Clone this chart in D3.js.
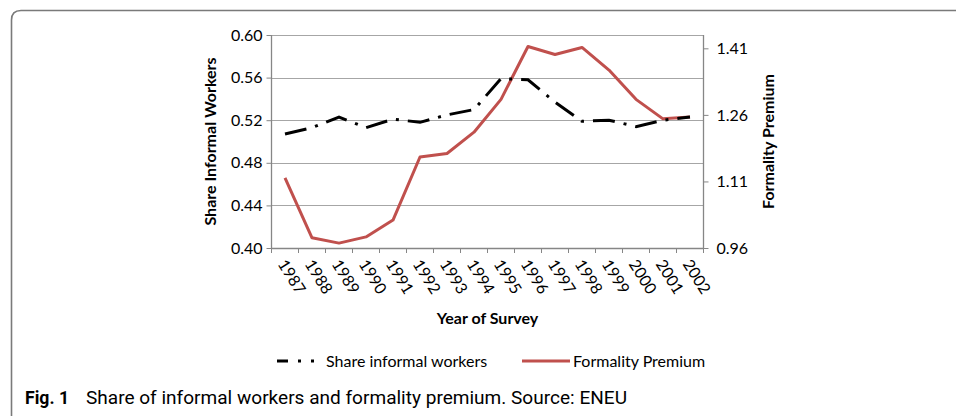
<!DOCTYPE html>
<html>
<head>
<meta charset="utf-8">
<script src="https://cdnjs.cloudflare.com/ajax/libs/d3/7.8.5/d3.min.js"></script>
<style>
  html, body { margin: 0; padding: 0; background: #fff; }
  svg { display: block; }
  text { font-family: Lato, "Open Sans", sans-serif; fill: #000; }
</style>
</head>
<body>
<svg id="chart" width="956" height="416"></svg>
<script>
const years = ["1987","1988","1989","1990","1991","1992","1993","1994","1995","1996","1997","1998","1999","2000","2001","2002"];
const shareInformal = [0.507,0.513,0.523,0.513,0.521,0.518,0.525,0.530,0.559,0.558,0.537,0.519,0.520,0.514,0.520,0.523];
const formalityPremium = [1.118,0.983,0.971,0.985,1.023,1.165,1.173,1.221,1.295,1.414,1.396,1.412,1.361,1.295,1.251,1.255];
const leftTicks = [0.40,0.44,0.48,0.52,0.56,0.60];
const rightTicks = [0.96,1.11,1.26,1.41];
const seriesNames = ["Share informal workers","Formality Premium"];

const FS = "16px";
const svg = d3.select("#chart");
const L = 271.5, R = 703.5, T = 35, B = 248;

// figure frame
svg.append("path")
  .attr("d", `M 960 10.5 L 21 10.5 Q 11.5 10.5 11.5 20 L 11.5 420`)
  .attr("fill", "none").attr("stroke", "#7a7a7a").attr("stroke-width", 1.6);

const x = d3.scaleBand().domain(years).range([L, R]);
const yL = d3.scaleLinear().domain([0.40, 0.60]).range([B, T]);
const yR = d3.scaleLinear().domain([0.96, 1.44]).range([B, T]);
const cx = d => x(d) + x.bandwidth() / 2;

// gridlines
svg.append("g").selectAll("line").data(leftTicks.slice(1)).join("line")
  .attr("x1", L).attr("x2", R)
  .attr("y1", d => Math.round(yL(d)) + 0.5).attr("y2", d => Math.round(yL(d)) + 0.5)
  .attr("stroke", "#a6a6a6").attr("stroke-width", 1);

// left axis
const gL = svg.append("g").attr("transform", `translate(${L},0)`)
  .call(d3.axisLeft(yL).tickValues(leftTicks).tickFormat(d3.format(".2f")).tickSize(5).tickPadding(4));
gL.select(".domain").attr("stroke", "#868686").attr("stroke-width", 1.3).attr("d", `M0,${T}V${B}`);
gL.selectAll(".tick line").attr("stroke", "#868686");
gL.selectAll("text").style("font-size", FS).style("font-family", "Lato, 'Open Sans', sans-serif").attr("fill", "#000");

// right axis
const gR = svg.append("g").attr("transform", `translate(${R},0)`)
  .call(d3.axisRight(yR).tickValues(rightTicks).tickFormat(d3.format(".2f")).tickSize(5).tickPadding(8));
gR.select(".domain").attr("stroke", "#868686").attr("stroke-width", 1.3).attr("d", `M0,${T}V${B}`);
gR.selectAll(".tick line").attr("stroke", "#868686");
gR.selectAll("text").style("font-size", FS).style("font-family", "Lato, 'Open Sans', sans-serif").attr("fill", "#000");

// bottom axis
const gB = svg.append("g");
gB.append("line").attr("x1", L).attr("x2", R).attr("y1", B + 0.5).attr("y2", B + 0.5)
  .attr("stroke", "#868686").attr("stroke-width", 1.3);
const bounds = years.map(d => x(d)).concat([x(years[years.length - 1]) + x.bandwidth()]);
gB.selectAll("line.tk").data(bounds).join("line").attr("class", "tk")
  .attr("x1", d => d).attr("x2", d => d).attr("y1", B).attr("y2", B + 5)
  .attr("stroke", "#868686");
gB.selectAll("text").data(years).join("text")
  .attr("transform", d => `translate(${cx(d) - 3},${B + 13}) rotate(58)`)
  .attr("dy", "0.35em")
  .style("font-size", FS)
  .text(d => d);

// axis titles
svg.append("text").attr("x", (L + R) / 2).attr("y", 324).attr("text-anchor", "middle")
  .style("font-size", FS).style("font-weight", "bold").text("Year of Survey");
svg.append("text").attr("transform", `translate(216,${(T + B) / 2}) rotate(-90)`).attr("text-anchor", "middle")
  .style("font-size", FS).style("font-weight", "bold").text("Share Informal Workers");
svg.append("text").attr("transform", `translate(774,${(T + B) / 2}) rotate(-90)`).attr("text-anchor", "middle")
  .style("font-size", FS).style("font-weight", "bold").text("Formality Premium");

// lines
const lineL = d3.line().x((d, i) => cx(years[i])).y(d => yL(d));
const lineR = d3.line().x((d, i) => cx(years[i])).y(d => yR(d));
svg.append("path").datum(formalityPremium).attr("d", lineR)
  .attr("fill", "none").attr("stroke", "#c0504d").attr("stroke-width", 3).attr("stroke-linejoin", "round");
svg.append("path").datum(shareInformal).attr("d", lineL)
  .attr("fill", "none").attr("stroke", "#000").attr("stroke-width", 3)
  .attr("stroke-dasharray", "22,9,3,9");

// legend
const lg = svg.append("g");
lg.append("line").attr("x1", 277).attr("x2", 323).attr("y1", 361).attr("y2", 361)
  .attr("stroke", "#000").attr("stroke-width", 3).attr("stroke-dasharray", "11,10,3,10,3,20");
lg.append("text").attr("x", 326).attr("y", 366.5).style("font-size", FS).text(seriesNames[0]);
lg.append("line").attr("x1", 522).attr("x2", 570).attr("y1", 361).attr("y2", 361)
  .attr("stroke", "#c0504d").attr("stroke-width", 3);
lg.append("text").attr("x", 573).attr("y", 366.5).style("font-size", FS).text(seriesNames[1]);

// caption
svg.append("text").attr("x", 25).attr("y", 404).style("font-size", "18px")
  .style("font-weight", "bold").style("font-family", "'Liberation Sans Narrow', Roboto, sans-serif")
  .attr("textLength", 44).attr("lengthAdjust", "spacingAndGlyphs").text("Fig. 1");
svg.append("text").attr("x", 86).attr("y", 404)
  .style("font-size", "18px").style("font-family", "'Liberation Sans Narrow', Roboto, sans-serif")
  .attr("fill", "#222")
  .attr("textLength", 541).attr("lengthAdjust", "spacingAndGlyphs")
  .text("Share of informal workers and formality premium. Source: ENEU");
</script>
</body>
</html>
